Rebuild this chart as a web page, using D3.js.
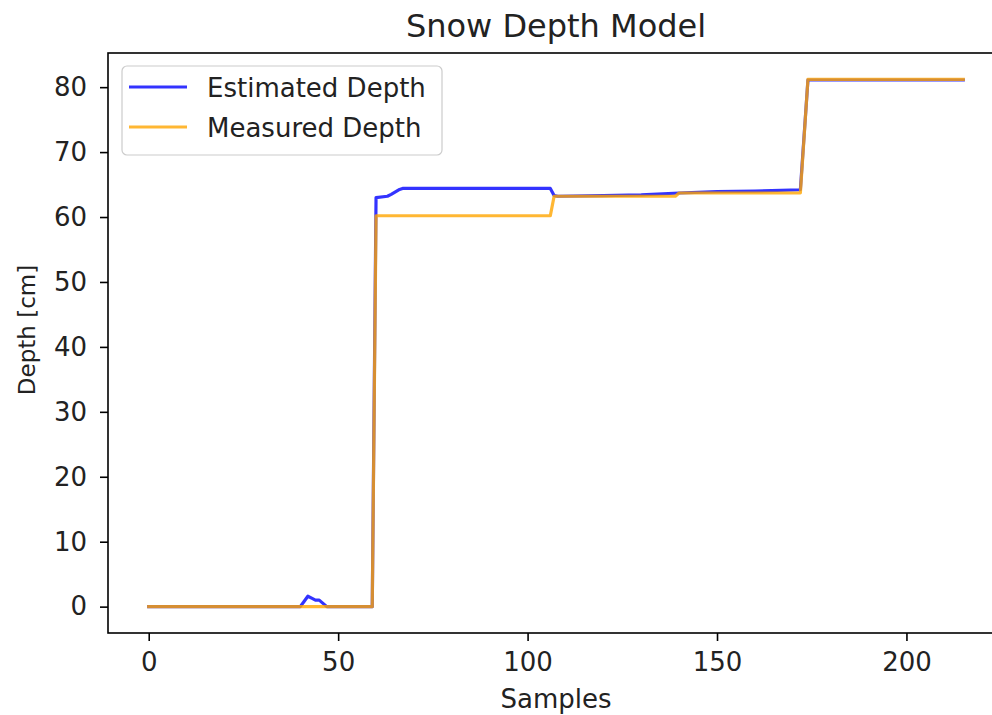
<!DOCTYPE html>
<html>
<head>
<meta charset="utf-8">
<script src="https://cdn.jsdelivr.net/npm/d3@7"></script>
<style>
  body{margin:0;background:#fff;}
  svg{display:block;font-family:"DejaVu Sans",sans-serif;}
</style>
</head>
<body>
<script>
// estimated depth (blue), sample index -> depth in cm
const estimatedX=[0,40,41,42,43,44,45,46,47,59,60,63,64,66,67,106,107,108,120,130,140,150,160,172,174,215];
const estimatedY=[0,0,0.8,1.6,1.3,1.0,1.0,0.5,0,0,63.0,63.2,63.5,64.2,64.4,64.4,63.3,63.2,63.3,63.4,63.7,63.9,64.0,64.2,81.1,81.1];
// measured depth (orange)
const measuredX=[0,59,60,106,107,139,140,172,174,215];
const measuredY=[0,0,60.2,60.2,63.2,63.2,63.7,63.7,81.2,81.2];

const xTicks=[0,50,100,150,200];
const yTicks=[0,10,20,30,40,50,60,70,80];
const seriesNames=["Estimated Depth","Measured Depth"];
const seriesColors=["#0000ff","#ffa500"];

const w=992, h=715;
const margin={top:53,left:108,right:1004,bottom:633};

const svg=d3.select("body").append("svg").attr("width",w).attr("height",h);

const xScale=d3.scaleLinear().domain([-10.75,225.75]).range([margin.left,margin.right]);
const yScale=d3.scaleLinear().domain([-4.06,85.26]).range([margin.bottom,margin.top]);

const est=estimatedX.map((x,i)=>[x,estimatedY[i]]);
const meas=measuredX.map((x,i)=>[x,measuredY[i]]);

const line=d3.line().x(d=>xScale(d[0])).y(d=>yScale(d[1]));

[est,meas].forEach((s,i)=>{
  svg.append("path")
    .attr("d",line(s))
    .attr("fill","none")
    .attr("stroke",seriesColors[i])
    .attr("stroke-opacity",0.8)
    .attr("stroke-width",3.2)
    .attr("stroke-linejoin","round")
    .attr("stroke-linecap","square");
});

// axes
const xAxis=d3.axisBottom(xScale).tickValues(xTicks).tickSize(8).tickPadding(12);
const gx=svg.append("g").attr("transform",`translate(0,${margin.bottom})`).call(xAxis);
const yAxis=d3.axisLeft(yScale).tickValues(yTicks).tickSize(8).tickPadding(13);
const gy=svg.append("g").attr("transform",`translate(${margin.left},0)`).call(yAxis);
[gx,gy].forEach(g=>{
  g.select(".domain").remove();
  g.selectAll(".tick line").attr("stroke","#000").attr("stroke-width",1.6);
  g.selectAll(".tick text").attr("fill","#222").style("font-size","26px").style("font-family","DejaVu Sans");
});

svg.append("rect")
  .attr("x",margin.left).attr("y",margin.top)
  .attr("width",margin.right-margin.left).attr("height",margin.bottom-margin.top)
  .attr("fill","none").attr("stroke","#000").attr("stroke-width",1.6);

// title and labels
svg.append("text").text("Snow Depth Model")
  .attr("x",(margin.left+margin.right)/2).attr("y",37)
  .attr("text-anchor","middle").style("font-size","32px").attr("fill","#222");
svg.append("text").text("Samples")
  .attr("x",(margin.left+margin.right)/2).attr("y",708)
  .attr("text-anchor","middle").style("font-size","26px").attr("fill","#222");
svg.append("text").text("Depth [cm]")
  .attr("transform",`translate(35,330) rotate(-90)`)
  .attr("text-anchor","middle").style("font-size","23px").attr("fill","#222");

// legend
const lg=svg.append("g").attr("transform","translate(122,66)");
lg.append("rect").attr("width",320).attr("height",89).attr("rx",5)
  .attr("fill","#fff").attr("fill-opacity",0.8).attr("stroke","#ccc").attr("stroke-width",1.2);
seriesNames.forEach((n,i)=>{
  lg.append("line").attr("x1",7).attr("x2",65).attr("y1",21+40*i).attr("y2",21+40*i)
    .attr("stroke",seriesColors[i]).attr("stroke-opacity",0.8).attr("stroke-width",3.2);
  lg.append("text").text(n).attr("x",85).attr("y",31+40*i)
    .style("font-size","26px").attr("fill","#222");
});
</script>
</body>
</html>
